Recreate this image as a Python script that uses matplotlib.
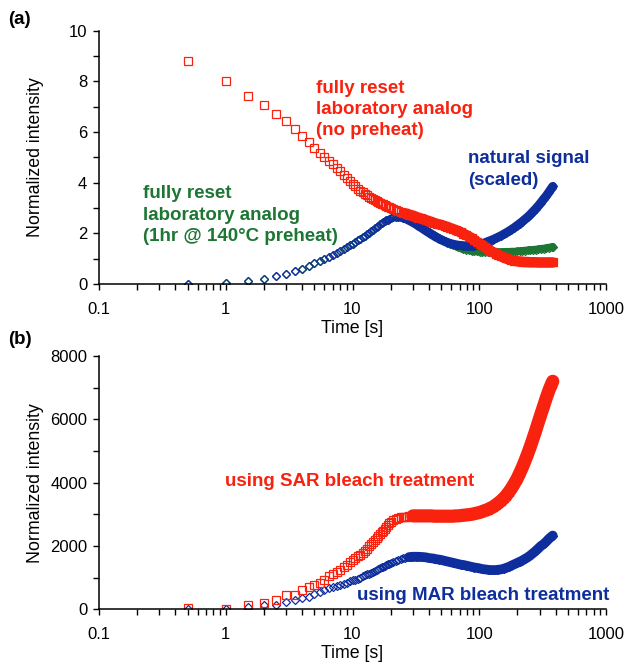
import matplotlib
matplotlib.use("Agg")
import matplotlib.pyplot as plt
from matplotlib.ticker import LogLocator, MultipleLocator, NullFormatter

plt.rcParams["font.family"] = ["Liberation Sans", "DejaVu Sans"]
plt.rcParams["font.size"] = 12

# shared time axis [s]
time = [0.5, 1.0, 1.5, 2.0, 2.5, 3.0, 3.5, 4.0, 4.5, 5.0,
        5.5, 6.0, 6.5, 7.0, 7.5, 8.0, 8.5, 9.0, 9.5, 10.0,
        10.5, 11.0, 11.5, 12.0, 12.5, 13.0, 13.5, 14.0, 14.5, 15.0,
        15.5, 16.0, 16.5, 17.0, 17.5, 18.0, 18.5, 19.0, 19.5, 20.0,
        21, 22, 23, 24, 25, 26, 27, 28, 29, 30,
        31.5, 33, 34.5, 36, 38, 40, 42, 44, 46, 48.5,
        51, 53.5, 56, 59, 62, 65, 68, 71.5, 75, 79,
        83, 87, 91.5, 96, 101, 106, 111, 116.5, 122, 128,
        134.5, 141, 148, 155.5, 163, 171, 179.5, 188.5, 198, 208,
        218, 229, 240.5, 252.5, 265, 278, 292, 306.5, 322, 338,
        355, 372, 380]

# panel (a)
no_preheat = [8.80, 8.03, 7.43, 7.05, 6.70, 6.42, 6.12, 5.86, 5.62, 5.38,
              5.17, 5.00, 4.85, 4.72, 4.58, 4.45, 4.32, 4.18, 4.06, 3.96,
              3.86, 3.77, 3.69, 3.62, 3.56, 3.50, 3.45, 3.40, 3.36, 3.32,
              3.28, 3.24, 3.20, 3.17, 3.14, 3.11, 3.08, 3.05, 3.03, 3.00,
              2.95, 2.91, 2.88, 2.85, 2.82, 2.79, 2.77, 2.74, 2.72, 2.70,
              2.66, 2.62, 2.59, 2.56, 2.52, 2.48, 2.45, 2.41, 2.38, 2.35,
              2.32, 2.28, 2.25, 2.21, 2.17, 2.13, 2.09, 2.04, 1.99, 1.93,
              1.87, 1.81, 1.74, 1.66, 1.59, 1.52, 1.45, 1.38, 1.32, 1.26,
              1.20, 1.15, 1.10, 1.05, 1.01, 0.97, 0.94, 0.92, 0.90, 0.89,
              0.88, 0.87, 0.87, 0.86, 0.86, 0.86, 0.85, 0.85, 0.85, 0.85,
              0.85, 0.85, 0.85]

natural = [0.00, 0.03, 0.12, 0.21, 0.31, 0.41, 0.51, 0.61, 0.71, 0.81,
           0.91, 1.00, 1.08, 1.16, 1.24, 1.31, 1.38, 1.45, 1.52, 1.58,
           1.65, 1.72, 1.78, 1.85, 1.91, 1.97, 2.03, 2.09, 2.14, 2.20,
           2.25, 2.30, 2.35, 2.39, 2.43, 2.47, 2.51, 2.54, 2.57, 2.60,
           2.64, 2.66, 2.66, 2.65, 2.62, 2.59, 2.55, 2.51, 2.47, 2.43,
           2.37, 2.30, 2.24, 2.18, 2.10, 2.03, 1.96, 1.90, 1.84, 1.78,
           1.73, 1.68, 1.64, 1.60, 1.57, 1.55, 1.53, 1.52, 1.51, 1.50,
           1.50, 1.50, 1.51, 1.53, 1.56, 1.59, 1.63, 1.67, 1.71, 1.75,
           1.80, 1.85, 1.90, 1.96, 2.02, 2.08, 2.15, 2.22, 2.30, 2.38,
           2.46, 2.55, 2.64, 2.74, 2.85, 2.96, 3.08, 3.21, 3.35, 3.48,
           3.63, 3.78, 3.85]

preheat = [0.00, 0.03, 0.12, 0.21, 0.31, 0.41, 0.51, 0.61, 0.71, 0.81,
           0.91, 1.00, 1.08, 1.16, 1.24, 1.31, 1.38, 1.45, 1.52, 1.58,
           1.65, 1.72, 1.78, 1.85, 1.91, 1.97, 2.03, 2.09, 2.14, 2.20,
           2.25, 2.30, 2.35, 2.39, 2.43, 2.47, 2.51, 2.54, 2.57, 2.60,
           2.64, 2.66, 2.66, 2.65, 2.62, 2.59, 2.56, 2.52, 2.48, 2.44,
           2.38, 2.32, 2.26, 2.20, 2.13, 2.06, 1.99, 1.93, 1.87, 1.80,
           1.74, 1.68, 1.63, 1.58, 1.53, 1.49, 1.45, 1.42, 1.39, 1.36,
           1.34, 1.32, 1.30, 1.29, 1.28, 1.27, 1.27, 1.26, 1.26, 1.26,
           1.26, 1.26, 1.26, 1.27, 1.27, 1.27, 1.28, 1.28, 1.29, 1.30,
           1.31, 1.32, 1.33, 1.34, 1.35, 1.36, 1.37, 1.39, 1.40, 1.42,
           1.44, 1.46, 1.47]

# panel (b)
sar = [30, 20, 130, 210, 300, 440, 460, 600, 690, 760,
       830, 930, 1040, 1120, 1190, 1250, 1330, 1400, 1480, 1550,
       1610, 1670, 1730, 1790, 1850, 1920, 1990, 2060, 2130, 2200,
       2260, 2320, 2380, 2430, 2480, 2540, 2600, 2660, 2720, 2770,
       2830, 2860, 2880, 2900, 2910, 2920, 2930, 2940, 2940, 2950,
       2950, 2950, 2950, 2950, 2950, 2950, 2950, 2940, 2940, 2940,
       2940, 2940, 2940, 2940, 2940, 2950, 2950, 2960, 2970, 2980,
       2990, 3000, 3020, 3040, 3060, 3090, 3120, 3150, 3190, 3230,
       3290, 3350, 3420, 3500, 3590, 3700, 3820, 3960, 4110, 4290,
       4470, 4680, 4900, 5130, 5380, 5630, 5900, 6160, 6420, 6680,
       6920, 7120, 7200]

mar = [20, 10, 60, 130, 150, 240, 300, 350, 400, 470,
       540, 600, 660, 700, 740, 770, 800, 840, 880, 910,
       940, 970, 1000, 1040, 1070, 1100, 1130, 1160, 1190, 1220,
       1250, 1280, 1300, 1330, 1350, 1370, 1390, 1420, 1440, 1470,
       1500, 1540, 1570, 1590, 1610, 1630, 1640, 1650, 1655, 1660,
       1660, 1660, 1655, 1650, 1640, 1620, 1610, 1600, 1580, 1570,
       1550, 1530, 1510, 1490, 1470, 1450, 1430, 1410, 1400, 1380,
       1360, 1340, 1320, 1310, 1290, 1270, 1260, 1250, 1240, 1240,
       1240, 1250, 1260, 1280, 1310, 1340, 1380, 1420, 1460, 1500,
       1540, 1590, 1640, 1700, 1770, 1840, 1920, 2000, 2060, 2140,
       2230, 2300, 2330]

RED = "#f8220f"
BLUE = "#0f2e9e"
GREEN = "#1d7634"

W, H = 626, 666
fig = plt.figure(figsize=(W / 100, H / 100), dpi=100)
ax_a = fig.add_axes([99 / W, 1 - 284 / H, 507 / W, 253.3 / H])
ax_b = fig.add_axes([99 / W, 1 - 609.3 / H, 507 / W, 253.3 / H])


def series(ax, y, color, marker, ms, band_from, band_lw):
    # open markers, plus a thick band where the measured points pile up
    ax.plot(time, y, ls="none", marker=marker, ms=ms, mfc="none", mec=color, mew=0.9)
    i0 = next(i for i, t in enumerate(time) if t >= band_from)
    ax.plot(time[i0:], y[i0:], color=color, lw=band_lw,
            solid_capstyle="round", solid_joinstyle="round")


# panel a
series(ax_a, preheat, GREEN, "D", 3.6, 26, 5.5)
series(ax_a, natural, BLUE, "D", 3.6, 24, 6.5)
series(ax_a, no_preheat, RED, "s", 5.4, 26, 7.5)
ax_a.set_ylim(0, 10)
ax_a.yaxis.set_major_locator(MultipleLocator(2))
ax_a.yaxis.set_minor_locator(MultipleLocator(1))

# panel b
series(ax_b, mar, BLUE, "D", 3.6, 28, 7)
series(ax_b, sar, RED, "s", 5.4, 30, 9.5)
ax_b.set_ylim(0, 8000)
ax_b.yaxis.set_major_locator(MultipleLocator(2000))
ax_b.yaxis.set_minor_locator(MultipleLocator(1000))

for ax in (ax_a, ax_b):
    ax.set_xscale("log")
    ax.set_xlim(0.1, 1000)
    ax.set_xticks([0.1, 1, 10, 100, 1000])
    ax.set_xticklabels(["0.1", "1", "10", "100", "1000"])
    ax.xaxis.set_minor_locator(LogLocator(base=10, subs=range(2, 10)))
    ax.xaxis.set_minor_formatter(NullFormatter())
    ax.spines["top"].set_visible(False)
    ax.spines["right"].set_visible(False)
    ax.spines["left"].set_linewidth(1.1)
    ax.spines["bottom"].set_linewidth(1.1)
    ax.tick_params(which="both", direction="out", width=1.0, colors="black", labelsize=12)
    ax.tick_params(which="major", length=4.5)
    ax.tick_params(which="minor", length=4)
    ax.tick_params(axis="x", which="major", pad=8.5)
    ax.tick_params(axis="y", which="major", pad=4)
    ax.set_xlabel("Time [s]", fontsize=12.8, labelpad=2)
    ax.set_ylabel("Normalized intensity", fontsize=12.8)
    ax.yaxis.set_label_coords(-0.108, 0.5)
    ax.patch.set_alpha(0)

bold = dict(fontweight="bold", fontsize=13.5, ha="left", va="baseline")


def label(x, y, s, color):
    fig.text(x / W, 1 - y / H, s, color=color, **bold)


label(316, 93, "fully reset", RED)
label(316, 114, "laboratory analog", RED)
label(316, 135, "(no preheat)", RED)
label(468, 163, "natural signal", BLUE)
label(468, 185, "(scaled)", BLUE)
label(143, 198, "fully reset", GREEN)
label(143, 220, "laboratory analog", GREEN)
label(143, 241, "(1hr @ 140°C preheat)", GREEN)
label(225, 486, "using SAR bleach treatment", RED)
label(357, 600, "using MAR bleach treatment", BLUE)
label(8, 24, "(a)", "black")
label(8, 344, "(b)", "black")

fig.savefig("out.png", dpi=100)
